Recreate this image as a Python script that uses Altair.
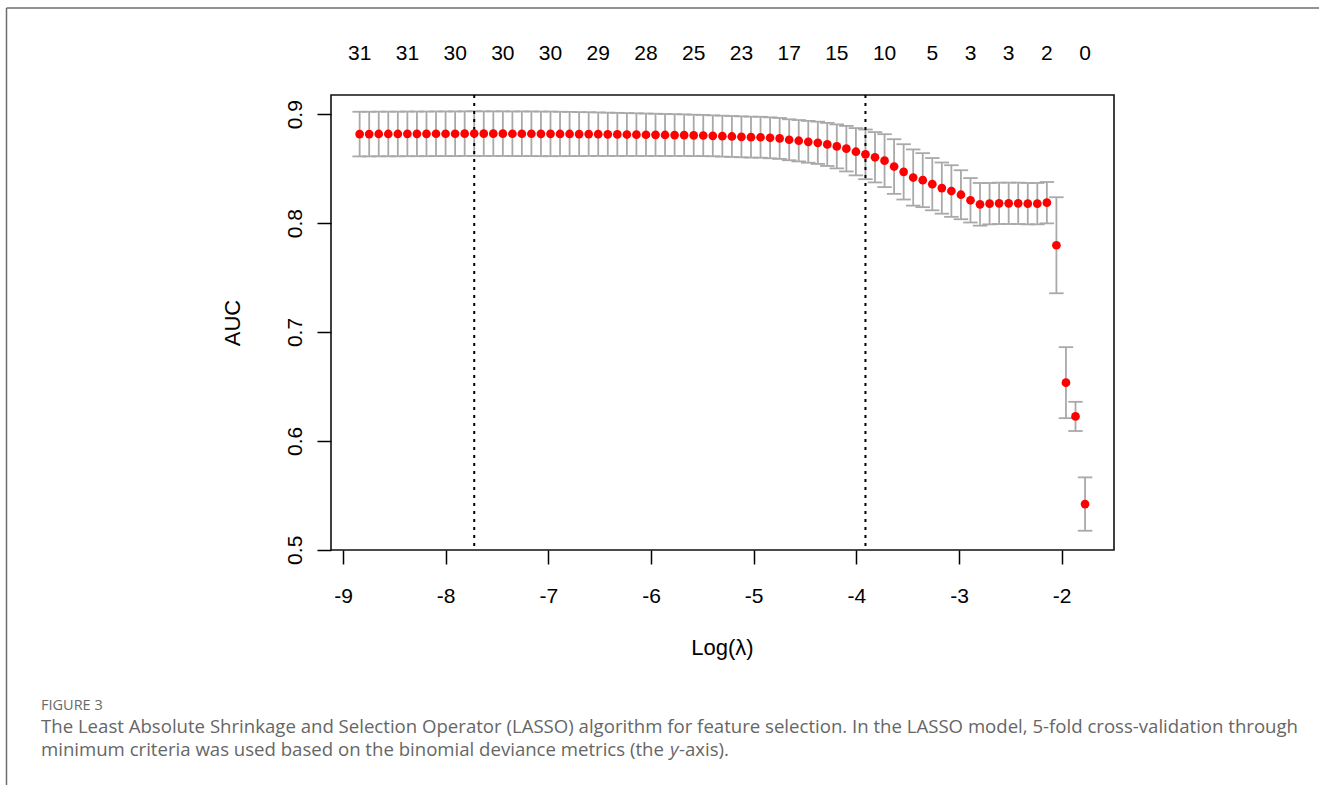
import altair as alt
import pandas as pd

# ---- data ----
log_lambda = [
    -8.838, -8.745, -8.652, -8.559, -8.466, -8.373, -8.280, -8.187, -8.094, -8.001,
    -7.908, -7.815, -7.722, -7.629, -7.536, -7.443, -7.350, -7.258, -7.165, -7.072,
    -6.979, -6.886, -6.793, -6.700, -6.607, -6.514, -6.421, -6.328, -6.235, -6.142,
    -6.049, -5.956, -5.863, -5.770, -5.677, -5.584, -5.491, -5.398, -5.305, -5.212,
    -5.119, -5.026, -4.933, -4.840, -4.747, -4.654, -4.561, -4.468, -4.375, -4.283,
    -4.190, -4.097, -4.004, -3.911, -3.818, -3.725, -3.632, -3.539, -3.446, -3.353,
    -3.260, -3.167, -3.074, -2.981, -2.888, -2.795, -2.702, -2.609, -2.516, -2.423,
    -2.330, -2.237, -2.144, -2.051, -1.958, -1.865, -1.772,
]
auc_mean = [
    0.8818, 0.8818, 0.8819, 0.8819, 0.8819, 0.8820, 0.8820, 0.8820, 0.8821, 0.8821,
    0.8821, 0.8822, 0.8823, 0.8822, 0.8822, 0.8822, 0.8821, 0.8821, 0.8821, 0.8820,
    0.8820, 0.8819, 0.8819, 0.8818, 0.8818, 0.8817, 0.8816, 0.8815, 0.8814, 0.8813,
    0.8812, 0.8811, 0.8810, 0.8809, 0.8808, 0.8806, 0.8805, 0.8802, 0.8799, 0.8796,
    0.8793, 0.8790, 0.8789, 0.8784, 0.8778, 0.8766, 0.8757, 0.8747, 0.8738, 0.8723,
    0.8705, 0.8684, 0.8656, 0.8632, 0.8605, 0.8574, 0.8520, 0.8471, 0.8419, 0.8395,
    0.8358, 0.8322, 0.8295, 0.8261, 0.8210, 0.8173, 0.8179, 0.8182, 0.8182, 0.8182,
    0.8179, 0.8179, 0.8188, 0.7797, 0.6535, 0.6225, 0.5420,
]
auc_sd = [
    0.0205, 0.0205, 0.0205, 0.0205, 0.0205, 0.0205, 0.0205, 0.0205, 0.0205, 0.0205,
    0.0205, 0.0205, 0.0205, 0.0205, 0.0205, 0.0205, 0.0205, 0.0205, 0.0205, 0.0205,
    0.0205, 0.0204, 0.0203, 0.0202, 0.0201, 0.0200, 0.0199, 0.0198, 0.0197, 0.0196,
    0.0195, 0.0194, 0.0193, 0.0192, 0.0191, 0.0190, 0.0189, 0.0188, 0.0188, 0.0188,
    0.0188, 0.0188, 0.0188, 0.0188, 0.0188, 0.0188, 0.0190, 0.0192, 0.0194, 0.0198,
    0.0202, 0.0209, 0.0217, 0.0228, 0.0231, 0.0243, 0.0251, 0.0254, 0.0258, 0.0248,
    0.0240, 0.0235, 0.0237, 0.0225, 0.0204, 0.0196, 0.0190, 0.0190, 0.0190, 0.0190,
    0.0190, 0.0190, 0.0190, 0.0441, 0.0326, 0.0134, 0.0245,
]
# number of non-zero coefficients shown on the top axis
top_label_index = [0, 5, 10, 15, 20, 25, 30, 35, 40, 45, 50, 55, 60, 64, 68, 72, 76]
top_label_text = ["31", "31", "30", "30", "30", "29", "28", "25", "23", "17",
                  "15", "10", "5", "3", "3", "2", "0"]
# lambda.min and lambda.1se
ref_lines = [-7.722, -3.911]
x_ticks = [-9, -8, -7, -6, -5, -4, -3, -2]
y_ticks = [0.5, 0.6, 0.7, 0.8, 0.9]

caption_head = "FIGURE 3"
caption_line1 = ("The Least Absolute Shrinkage and Selection Operator (LASSO) algorithm for "
                 "feature selection. In the LASSO model, 5-fold cross-validation through")
caption_line2a = "minimum criteria was used based on the binomial deviance metrics (the "
caption_line2b = "y"
caption_line2c = "-axis)."

# ---- tables ----
df = pd.DataFrame({"loglam": log_lambda, "auc": auc_mean, "sd": auc_sd})
top_df = pd.DataFrame({
    "loglam": [log_lambda[i] for i in top_label_index],
    "label": top_label_text,
})
ref_df = pd.DataFrame({"v": ref_lines})

PLOT_L, PLOT_T = 331, 95
W, H = 783, 455
CAP_W = 0.0705
GREY = "#A9A9A9"
FONT = "Liberation Sans"
CAP_FONT = "Open Sans"
CAP_SIZE = 18.6

xscale = alt.Scale(domain=[-9.117, -1.49], nice=False, zero=False)
yscale = alt.Scale(domain=[0.4998, 0.9177], nice=False, zero=False)

xaxis = alt.Axis(values=x_ticks, labelExpr="'' + datum.value", title="Log(λ)",
                 grid=False, domain=False,
                 tickSize=14, tickWidth=1.5, tickColor="black",
                 labelFont=FONT, labelFontSize=21, labelColor="black", labelPadding=21,
                 labelFlush=False,
                 titleFont=FONT, titleFontSize=22, titleFontWeight="normal", titleColor="black",
                 titleX=391, titleY=104, titleBaseline="alphabetic")
yaxis = alt.Axis(values=y_ticks, format=".1f", title="AUC", grid=False, domain=False,
                 tickSize=14, tickWidth=1.5, tickColor="black",
                 labelFont=FONT, labelFontSize=21, labelColor="black", labelPadding=16,
                 labelAngle=270, labelAlign="center", labelBaseline="alphabetic",
                 labelFlush=False,
                 titleFont=FONT, titleFontSize=22, titleFontWeight="normal", titleColor="black",
                 titleAngle=270, titleX=-92, titleY=227.5, titleAlign="center",
                 titleBaseline="alphabetic")

base = alt.Chart(df).transform_calculate(
    hi="datum.auc + datum.sd",
    lo="datum.auc - datum.sd",
    xl=f"datum.loglam - {CAP_W}",
    xr=f"datum.loglam + {CAP_W}",
)

bars = base.mark_rule(color=GREY, strokeWidth=1.8).encode(
    x=alt.X("loglam:Q", scale=xscale, axis=xaxis),
    y=alt.Y("lo:Q", scale=yscale, axis=yaxis),
    y2="hi:Q",
)
cap_hi = base.mark_rule(color=GREY, strokeWidth=1.8).encode(
    x=alt.X("xl:Q", scale=xscale), x2="xr:Q", y=alt.Y("hi:Q", scale=yscale))
cap_lo = base.mark_rule(color=GREY, strokeWidth=1.8).encode(
    x=alt.X("xl:Q", scale=xscale), x2="xr:Q", y=alt.Y("lo:Q", scale=yscale))

points = base.mark_circle(color="#FF0000", size=76, opacity=1).encode(
    x=alt.X("loglam:Q", scale=xscale), y=alt.Y("auc:Q", scale=yscale))

vlines = alt.Chart(ref_df).mark_rule(color="black", strokeWidth=2, strokeDash=[3, 5]).encode(
    x=alt.X("v:Q", scale=xscale))

top_labels = alt.Chart(top_df).mark_text(
    font=FONT, fontSize=21, color="black", baseline="alphabetic", align="center"
).encode(x=alt.X("loglam:Q", scale=xscale), y=alt.value(60 - PLOT_T), text="label:N")


def caption(txt, x, y, size=CAP_SIZE, style="normal", color="#666666", align="left"):
    return alt.Chart(pd.DataFrame({"t": [txt]})).mark_text(
        font=CAP_FONT, fontSize=size, fontStyle=style, color=color,
        align=align, baseline="alphabetic"
    ).encode(x=alt.value(x - PLOT_L), y=alt.value(y - PLOT_T), text="t:N")


cap0 = caption(caption_head, 41, 710, size=14.5, color="#6a6a6a")
cap1 = caption(caption_line1, 41, 733)
cap2a = caption(caption_line2a, 41, 756)
cap2b = caption(caption_line2b, 670, 756, style="italic")
cap2c = caption(caption_line2c, 679, 756)

frame_left = alt.Chart(pd.DataFrame({"a": [0]})).mark_rule(
    color="#6e6e6e", strokeWidth=1.5).encode(
    x=alt.value(6.5 - PLOT_L), y=alt.value(8 - PLOT_T), y2=alt.value(785 - PLOT_T + 5))
frame_top = alt.Chart(pd.DataFrame({"a": [0]})).mark_rule(
    color="#6e6e6e", strokeWidth=1.5).encode(
    x=alt.value(6.5 - PLOT_L), x2=alt.value(1319 - PLOT_L + 5), y=alt.value(8 - PLOT_T))

chart = alt.layer(
    bars, cap_hi, cap_lo, vlines, points, top_labels,
    cap0, cap1, cap2a, cap2b, cap2c, frame_left, frame_top,
).properties(
    width=W, height=H,
    autosize=alt.AutoSizeParams(type="none"),
    padding={"left": PLOT_L, "top": PLOT_T, "right": 1319 - PLOT_L - W, "bottom": 785 - PLOT_T - H},
    background="white",
).configure_view(stroke="#111111", strokeWidth=1.6)

chart.save("out.html", embed_options={"renderer": "svg", "actions": False})
